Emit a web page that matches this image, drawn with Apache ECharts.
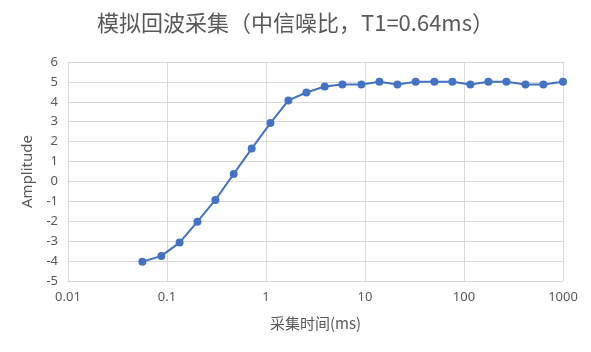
<!DOCTYPE html>
<html>
<head>
<meta charset="utf-8">
<script src="https://cdn.jsdelivr.net/npm/echarts@6/dist/echarts.min.js"></script>
<style>html,body{margin:0;padding:0;background:#fff;}#c{width:591px;height:352px;}</style>
</head>
<body>
<div id="c"></div>
<script>
var titleText = '模拟回波采集（中信噪比，T1=0.64ms）';
var xName = '采集时间(ms)';
var yName = 'Amplitude';
var times = [0.0564, 0.0878, 0.134, 0.203, 0.308, 0.472, 0.717, 1.108, 1.684, 2.559, 3.916, 5.911, 9.196, 13.98, 21.25, 32.51, 50.23, 76.34, 116.0, 176.4, 268.2, 417.2, 633.9, 1000];
var amplitude = [-4.03, -3.74, -3.07, -2.02, -0.93, 0.38, 1.65, 2.93, 4.07, 4.47, 4.77, 4.87, 4.87, 5.01, 4.87, 5.01, 5.01, 5.01, 4.87, 5.01, 5.01, 4.87, 4.87, 5.01];

var data = times.map(function (t, i) { return [t, amplitude[i]]; });
var font = "'Noto Sans', 'Noto Sans CJK SC', sans-serif";
var chart = echarts.init(document.getElementById('c'), null, {renderer: 'canvas'});
chart.setOption({
  animation: false,
  backgroundColor: '#fff',
  title: {
    text: titleText,
    left: 'center',
    top: 7,
    textStyle: {fontSize: 22, fontWeight: 'normal', color: '#595959', fontFamily: "'Noto Sans CJK SC', sans-serif"}
  },
  grid: {left: 68, right: 28, top: 62, bottom: 71},
  xAxis: {
    type: 'log',
    logBase: 10,
    min: 0.01,
    max: 1000,
    name: xName,
    nameLocation: 'middle',
    nameGap: 35,
    nameTextStyle: {fontSize: 15, color: '#595959', fontFamily: "'Noto Sans CJK SC', sans-serif"},
    axisLine: {show: true, lineStyle: {color: '#d9d9d9'}},
    axisTick: {show: false},
    axisLabel: {fontSize: 13, color: '#595959', fontFamily: font, margin: 10,
      formatter: function (v) { return String(v); }},
    splitLine: {show: true, lineStyle: {color: '#d9d9d9'}},
    minorTick: {show: false},
    minorSplitLine: {show: false}
  },
  yAxis: {
    type: 'value',
    min: -5,
    max: 6,
    interval: 1,
    name: yName,
    nameLocation: 'middle',
    nameGap: 32,
    nameRotate: 90,
    nameTextStyle: {fontSize: 15, color: '#595959', fontFamily: font},
    axisLine: {show: true, lineStyle: {color: '#d9d9d9'}},
    axisTick: {show: false},
    axisLabel: {fontSize: 13, color: '#595959', fontFamily: font, margin: 10},
    splitLine: {show: true, lineStyle: {color: '#d9d9d9'}}
  },
  series: [{
    type: 'line',
    data: data,
    symbol: 'circle',
    symbolSize: 8,
    lineStyle: {color: '#4472C4', width: 2},
    itemStyle: {color: '#4472C4'}
  }]
});
</script>
</body>
</html>
